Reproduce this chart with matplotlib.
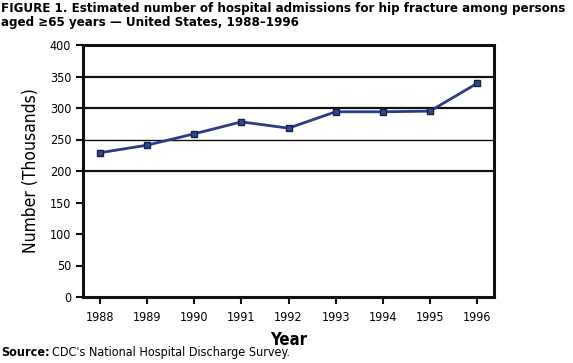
import matplotlib
matplotlib.use('Agg')
import matplotlib.pyplot as plt

years = [1988, 1989, 1990, 1991, 1992, 1993, 1994, 1995, 1996]
admissions = [229, 241, 259, 278, 268, 294, 294, 295, 339]
yticks = [0, 50, 100, 150, 200, 250, 300, 350, 400]
grid_levels = [200, 250, 300, 350]

plt.rcParams['font.family'] = ['DejaVu Sans']
plt.rcParams['font.stretch'] = 'condensed'

fig = plt.figure(figsize=(5.73, 3.63), dpi=100)
ax = fig.add_axes([83 / 573, 66 / 363, 411 / 573, 252 / 363])

x = list(range(len(years)))
for g in grid_levels:
    ax.axhline(g, color='#111111', lw=1.6 if g != 250 else 1.0, zorder=1)
ax.plot(x, admissions, color='#2E3A87', lw=2, marker='s', markersize=5,
        markerfacecolor='#2E4A8F', markeredgecolor='#1a1f40', markeredgewidth=1, zorder=3)

ax.set_xlim(-0.36, len(years) - 1 + 0.36)
ax.set_ylim(0, 400)
ax.set_yticks(yticks)
ax.set_xticks(x)
ax.set_xticklabels([str(y) for y in years])
for s in ax.spines.values():
    s.set_linewidth(2.2)
    s.set_color('#111111')
ax.tick_params(axis='both', direction='out', width=1.5, length=5, labelsize=9, color='#111111')
ax.tick_params(axis='x', pad=5)
ax.set_ylabel('Number (Thousands)', fontsize=12.5, labelpad=7)
ax.set_xlabel('Year', fontsize=12, fontweight='bold', labelpad=5)

fig.text(0.002, 0.995, 'FIGURE 1. Estimated number of hospital admissions for hip fracture among persons\n'
         'aged \u226565 years \u2014 United States, 1988\u20131996',
         fontsize=9.5, fontweight='bold', va='top', ha='left', linespacing=1.1)
fig.text(0.002, 0.012, 'Source:', fontsize=9, fontweight='bold', va='bottom', ha='left')
fig.text(0.09, 0.012, "CDC's National Hospital Discharge Survey.", fontsize=9, va='bottom', ha='left')

fig.savefig('out.png', dpi=100)
